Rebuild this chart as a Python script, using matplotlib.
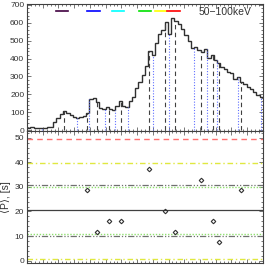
#!/usr/bin/env python3

import numpy as np
import matplotlib
matplotlib.use('Agg')
import matplotlib.pyplot as plt
from matplotlib.ticker import MultipleLocator

# light curve, 50-100 keV, 72 bins over 0-300 s
t_start = 0.0
t_end = 300.0
counts = [12, 15, 14, 12, 10, 13, 16, 20, 46, 65, 88, 105,
          96, 84, 72, 68, 75, 78, 98, 172, 178, 155, 125, 118,
          130, 120, 110, 135, 162, 132, 128, 160, 185, 235, 270, 310,
          360, 440, 420, 485, 540, 560, 605, 540, 625, 612, 592, 565,
          530, 500, 460, 462, 448, 438, 455, 405, 420, 392, 375, 355,
          340, 327, 317, 285, 298, 270, 255, 243, 228, 214, 196, 187]

# peak times (dashed) and minimum times (dotted), s
peak_times = [47.4, 76.6, 89.4, 103.8, 119.1, 155.7, 176.0, 188.1,
              220.8, 236.8, 244.4, 272.0]
min_times = [19.7, 64.2, 79.4, 99.8, 111.8, 128.0, 160.1, 180.5,
             212.3, 228.4, 241.1, 268.6, 297.0]

# periods between successive peaks, s
periods = [28.9, 11.6, 16.0, 16.0, 37.3, 20.2, 11.8, 33.0, 16.0, 7.6, 28.9]

# reference levels in the period panel
mean_level = 20.4
sigma_gray = [30.8, 10.0]
sigma_green = [30.0, 10.9]
level_yellow = [39.7, 0.7]
level_red = 49.5

energy_label = '50\u2212100keV'

tick_color = '#333333'


def style_axis(ax):
    for s in ax.spines.values():
        s.set_color('#404040')
        s.set_linewidth(0.8)
    ax.tick_params(which='both', direction='in', top=True, right=True,
                   colors='#404040', labelcolor=tick_color, labelsize=6,
                   pad=2, width=0.5)
    ax.tick_params(which='major', length=3)
    ax.tick_params(which='minor', length=1.5)
    ax.xaxis.set_major_locator(MultipleLocator(20))
    ax.xaxis.set_minor_locator(MultipleLocator(5))
    ax.tick_params(axis='x', labelbottom=False)


def main():
    plt.rcParams['font.family'] = ['Liberation Sans', 'DejaVu Sans']

    fig = plt.figure(figsize=(2.66, 2.66), dpi=100)
    ax1 = fig.add_axes([0.1015, 0.5075, 0.887, 0.4775])
    ax2 = fig.add_axes([0.1015, 0.0113, 0.887, 0.4962])

    edges = np.linspace(t_start, t_end, len(counts) + 1)
    c = np.array(counts, dtype=float)

    # histogram outline
    ax1.stairs(c, edges, color='#303030', lw=1.0, baseline=None)

    # vertical markers up to the curve
    for t in peak_times:
        i = np.searchsorted(edges, t) - 1
        ax1.plot([t, t], [0, c[i]], color='#404040', ls=(0, (4, 3)), lw=0.8)
    for t in min_times:
        i = min(np.searchsorted(edges, t) - 1, len(c) - 1)
        ax1.plot([t, t], [0, c[i]], color='#6070ff', ls=(0, (1, 1.5)), lw=0.8)

    ax1.set_xlim(t_start, t_end)
    ax1.set_ylim(-5, 705)
    ax1.yaxis.set_major_locator(MultipleLocator(100))
    ax1.yaxis.set_minor_locator(MultipleLocator(20))
    style_axis(ax1)
    ax1.set_ylabel('Count rate, [s$^{-1}$]', fontsize=7.5, color=tick_color)
    ax1.yaxis.set_label_coords(-0.1, 0.5)

    # key line segments
    keys = [('#400040', 0.123, 0.174), ('#0000ff', 0.254, 0.309),
            ('#00ffff', 0.360, 0.410), ('#00e000', 0.475, 0.525),
            ('#ffff00', 0.542, 0.589), ('#ff0000', 0.593, 0.648)]
    for col, x0, x1 in keys:
        ax1.plot([x0, x1], [0.945, 0.945], color=col, lw=1.2,
                 transform=ax1.transAxes)
    ax1.text(0.953, 0.937, energy_label, transform=ax1.transAxes,
             ha='right', va='center', fontsize=7.5, color=tick_color)

    # period panel
    ax2.axhline(level_red, color='#ff7070', ls=(0, (4, 3)), lw=1.0)
    for y in level_yellow:
        ax2.axhline(y, color='#e0e840', ls=(0, (4, 2, 1, 2)), lw=1.0)
    for y in sigma_gray:
        ax2.axhline(y, color='#707070', ls=(0, (5, 1.5, 1, 1.5, 1, 1.5)), lw=0.9)
    for y in sigma_green:
        ax2.axhline(y, color='#90e070', ls=(0, (1, 1.2)), lw=1.0)
    ax2.axhline(mean_level, color='#404040', lw=0.9)

    ax2.plot(peak_times[1:], periods, ls='none', marker='D', ms=2.3,
             mfc='none', mec='#303030', mew=0.8)

    ax2.set_xlim(t_start, t_end)
    ax2.set_ylim(-1, 52.8)
    ax2.yaxis.set_major_locator(MultipleLocator(10))
    ax2.yaxis.set_minor_locator(MultipleLocator(2))
    style_axis(ax2)
    ax2.set_ylabel('\u27e8P\u27e9, [s]', fontsize=7.5, color=tick_color)
    ax2.yaxis.set_label_coords(-0.068, 0.5)

    plt.savefig('out.png', dpi=100)


if __name__ == '__main__':
    main()
